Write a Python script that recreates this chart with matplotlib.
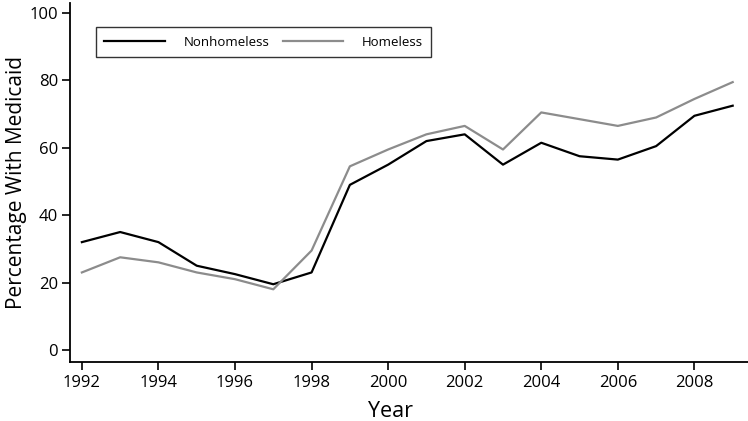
import matplotlib
matplotlib.use("Agg")
import matplotlib.pyplot as plt

years = list(range(1992, 2010))
nonhomeless = [32, 35, 32, 25, 22.5, 19.5, 23, 49, 55, 62, 64, 55, 61.5, 57.5, 56.5, 60.5, 69.5, 72.5]
homeless = [23, 27.5, 26, 23, 21, 18, 29.5, 54.5, 59.5, 64, 66.5, 59.5, 70.5, 68.5, 66.5, 69, 74.5, 79.5]
xticks = list(range(1992, 2009, 2))
yticks = [0, 20, 40, 60, 80, 100]

plt.rcParams['font.family'] = ['Open Sans', 'DejaVu Sans']

fig = plt.figure(figsize=(7.48, 4.21), dpi=100)
ax = fig.add_axes([0.0936, 0.14, 0.9064, 0.853])

ax.plot(years, nonhomeless, color='black', lw=1.6, label='Nonhomeless')
ax.plot(years, homeless, color='#8c8c8c', lw=1.6, label='Homeless')

ax.set_xlim(1991.69, 2009.4)
ax.set_ylim(-3.6, 103)
ax.set_xticks(xticks)
ax.set_yticks(yticks)
ax.tick_params(direction='out', length=5.5, width=1.2, labelsize=12, pad=3)
ax.tick_params(axis='x', pad=4)
for s in ['top', 'right']:
    ax.spines[s].set_visible(False)
for s in ['left', 'bottom']:
    ax.spines[s].set_linewidth(1.3)

ax.set_xlabel('Year', fontsize=15.5)
ax.xaxis.set_label_coords(0.473, -0.108)
ax.set_ylabel('Percentage With Medicaid', fontsize=15, labelpad=2)

leg = ax.legend(loc='upper left', bbox_to_anchor=(0.038, 0.933), ncol=2,
                fontsize=9.5, frameon=True, fancybox=False, handlelength=4.6,
                columnspacing=1.0, handletextpad=1.4, borderpad=0.65,
                borderaxespad=0)
leg.get_frame().set_edgecolor('black')
leg.get_frame().set_linewidth(1.0)

fig.savefig('out.png', dpi=100)
